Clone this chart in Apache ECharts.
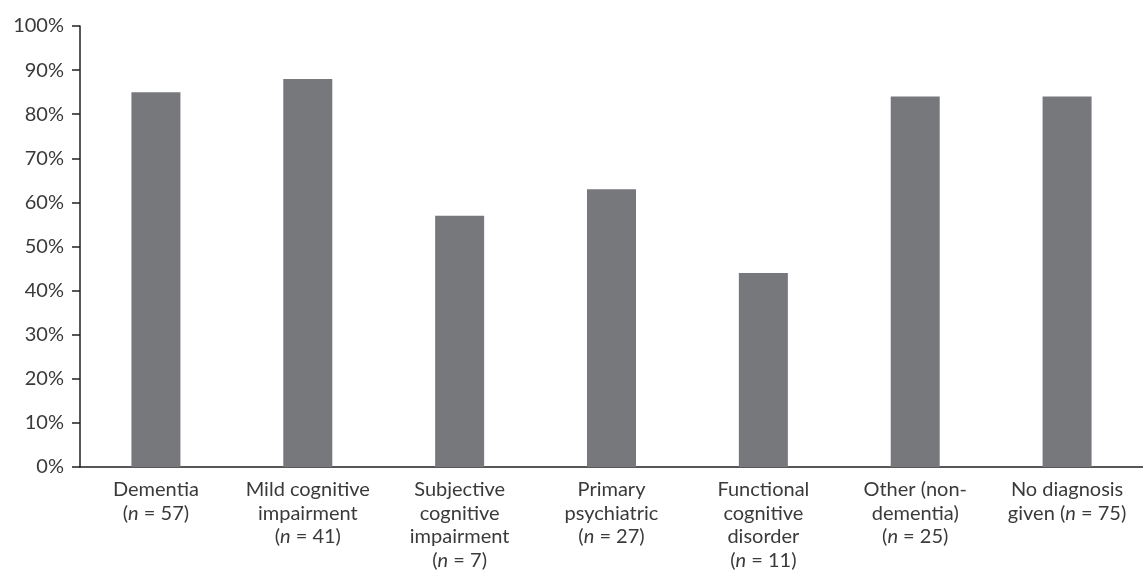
<!DOCTYPE html>
<html>
<head>
<meta charset="utf-8">
<script src="https://cdn.jsdelivr.net/npm/echarts@6/dist/echarts.min.js"></script>
<style>html,body{margin:0;padding:0;background:#fff}#c{width:1143px;height:572px}</style>
</head>
<body>
<div id="c"></div>
<script>
const categoryLines = [
  ["Dementia"],
  ["Mild cognitive", "impairment"],
  ["Subjective", "cognitive", "impairment"],
  ["Primary", "psychiatric"],
  ["Functional", "cognitive", "disorder"],
  ["Other (non-", "dementia)"],
  ["No diagnosis"]
];
const nPrefix = ["", "", "", "", "", "", "given "];
const nValues = [57, 41, 7, 27, 11, 25, 75];
const values = [85, 88, 57, 63, 44, 84, 84];
const yTicks = [0, 10, 20, 30, 40, 50, 60, 70, 80, 90, 100];

const categories = categoryLines.map((lines, i) =>
  lines.join("\n") + "\n" + nPrefix[i] + "({i|n} = " + nValues[i] + ")"
);

const textColor = "#3a3a3a";
const font = "Lato";
const fs = 20;
const chart = echarts.init(document.getElementById("c"));
chart.setOption({
  animation: false,
  grid: { left: 80, top: 26, width: 1075, height: 441, containLabel: false },
  xAxis: {
    type: "category",
    data: categories,
    axisLine: { lineStyle: { color: "#231f20", width: 1.5 } },
    axisTick: { alignWithLabel: true, length: 8, lineStyle: { color: "#231f20", width: 1.5 } },
    axisLabel: {
      interval: 0, margin: 11, color: textColor, fontFamily: font, fontSize: fs, lineHeight: 23.5,
      rich: { i: { fontStyle: "italic", color: textColor, fontFamily: font, fontSize: fs, lineHeight: 23.5 } }
    }
  },
  yAxis: {
    type: "value", min: yTicks[0], max: yTicks[yTicks.length - 1], interval: yTicks[1] - yTicks[0],
    axisLine: { show: true, lineStyle: { color: "#231f20", width: 1.5 } },
    axisTick: { show: true, length: 8, lineStyle: { color: "#231f20", width: 1.5 } },
    splitLine: { show: false },
    axisLabel: { margin: 16, color: textColor, fontFamily: font, fontSize: fs, formatter: v => v + "%" }
  },
  series: [{
    type: "bar",
    data: values,
    barWidth: 49,
    itemStyle: { color: "#77787b" }
  }]
});
</script>
</body>
</html>
